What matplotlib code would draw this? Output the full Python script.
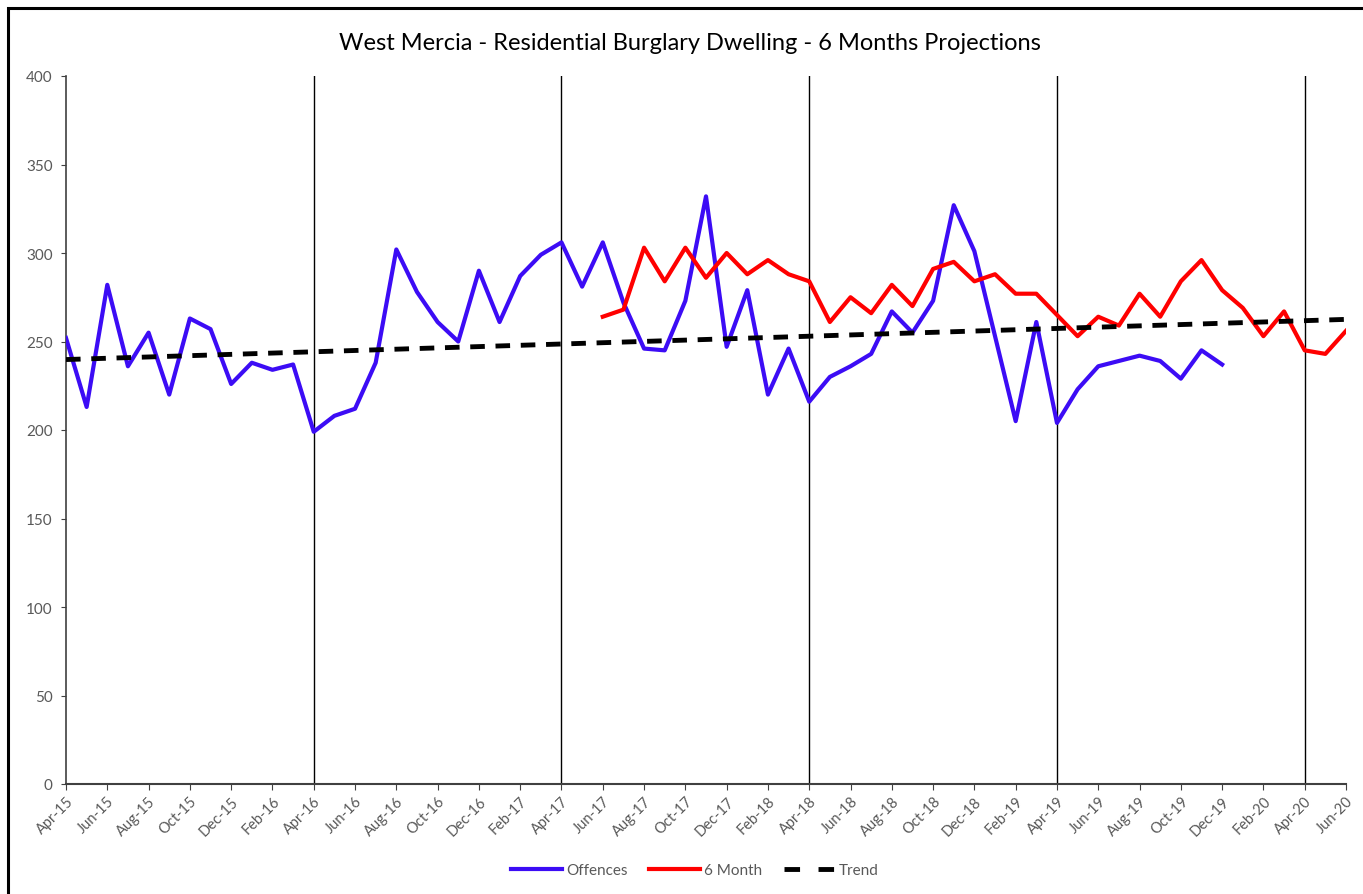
import matplotlib
matplotlib.use('Agg')
import matplotlib.pyplot as plt
import matplotlib.patches as patches

# month labels Apr-15 .. Jun-20
months = ['Apr', 'May', 'Jun', 'Jul', 'Aug', 'Sep', 'Oct', 'Nov', 'Dec', 'Jan', 'Feb', 'Mar']
labels = []
for k in range(63):
    m = months[k % 12]
    yr = 15 + (k + 3) // 12
    labels.append('%s-%02d' % (m, yr))

offences = [252, 213, 282, 236, 255, 220, 263, 257, 226, 238, 234, 237,
            199, 208, 212, 238, 302, 278, 261, 250, 290, 261, 287, 299,
            306, 281, 306, 272, 246, 245, 273, 332, 247, 279, 220, 246,
            216, 230, 236, 243, 267, 255, 273, 327, 301, 253, 205, 261,
            204, 223, 236, 239, 242, 239, 229, 245, 237]

six_month_start = 26
six_month = [264, 268, 303, 284, 303, 286, 300, 288, 296, 288,
             284, 261, 275, 266, 282, 270, 291, 295, 284, 288,
             277, 277, 265, 253, 264, 259, 277, 264, 284, 296,
             279, 269, 253, 267, 245, 243, 256]

trend_ends = [239.8, 262.5]

W, H = 1363, 895
fig = plt.figure(figsize=(W / 100, H / 100), dpi=100)
plt.rcParams['font.family'] = ['Lato', 'DejaVu Sans']
ax = fig.add_axes([66 / W, 1 - 785 / H, (1346 - 66) / W, (785 - 77) / H])

# outer frame of the chart
fig.patches.append(patches.Rectangle((8 / W, -0.1), 1.2, 1 - 9 / H + 0.1, transform=fig.transFigure,
                                     fill=False, edgecolor='black', linewidth=2.2))

x_all = list(range(len(labels)))

# year separators
for k in range(12, len(labels), 12):
    ax.axvline(k, color='black', linewidth=1.0, zorder=1)

ax.plot(range(len(offences)), offences, color='#3C0CF5', linewidth=3, label='Offences', zorder=3)
ax.plot(range(six_month_start, six_month_start + len(six_month)), six_month, color='#FF0000',
        linewidth=3, label='6 Month', zorder=3)
ax.plot([0, len(labels) - 1], trend_ends, color='black', linewidth=3.5, linestyle=(0, (3, 2.2)),
        label='Trend', zorder=4)

ax.set_xlim(0, len(labels) - 1)
ax.set_ylim(0, 400)
ax.set_yticks(range(0, 401, 50))
ax.set_xticks(x_all[::2])
ax.set_xticklabels(labels[::2], rotation=45, ha='right', rotation_mode='anchor', fontsize=10.5,
                   color='#595959')
ax.tick_params(axis='y', labelsize=11, labelcolor='#595959', length=3.6, color='#404040', pad=6)
ax.tick_params(axis='x', length=4, color='#404040', pad=3)

for s in ['top', 'right']:
    ax.spines[s].set_visible(False)
ax.spines['left'].set_color('#404040')
ax.spines['bottom'].set_color('#404040')
ax.spines['left'].set_linewidth(1.2)
ax.spines['bottom'].set_linewidth(1.5)

fig.text(690 / W, 1 - 43 / H, 'West Mercia - Residential Burglary Dwelling - 6 Months Projections',
         ha='center', va='center', fontsize=17, color='black')

leg = fig.legend(loc='center', bbox_to_anchor=(695 / W, 1 - 871 / H), ncol=3, frameon=False,
                 fontsize=11, handlelength=3.3, columnspacing=1.4, handletextpad=0.3)
for t in leg.get_texts():
    t.set_color('#595959')
leg.get_lines()[2].set_linestyle((0, (3.2, 3.8)))

fig.savefig('out.png', dpi=100)
